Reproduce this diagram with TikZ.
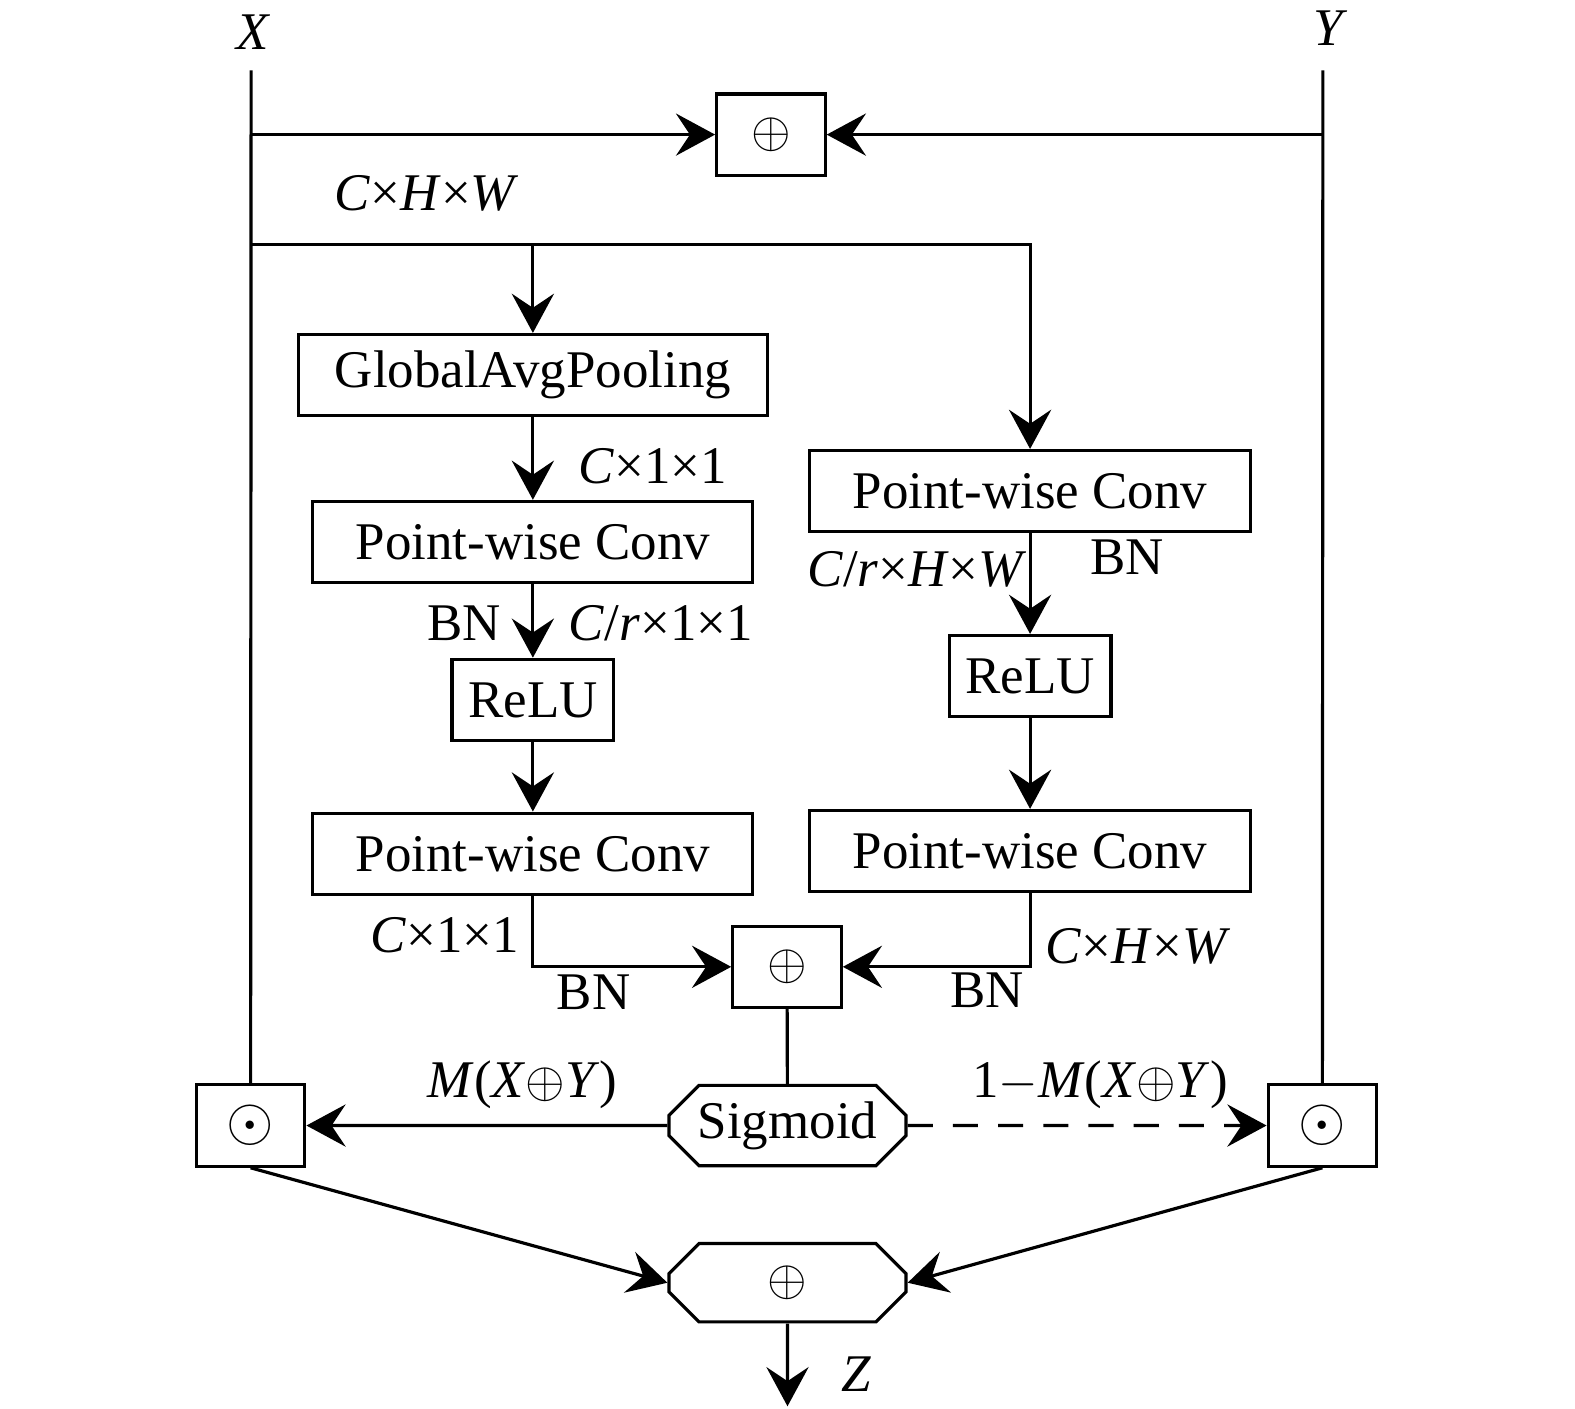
\documentclass[tikz,border=0pt]{standalone}
\usepackage{fontspec}
\setmainfont{Liberation Serif}
\usepackage{tikz}
\usetikzlibrary{shapes.misc, arrows.meta, positioning, calc}
\tikzset{
    arrow/.style={-{Stealth[length=3.9mm,width=4.2mm,inset=1.4mm]}, line width=0.9pt, black},
    plainline/.style={line width=0.9pt, black},
    lbl/.style={inner sep=0pt, font=\fontsize{15}{17}\selectfont},
}

\begin{document}
\begin{tikzpicture}[
  block/.style={draw,line width=0.9pt,rectangle,minimum height=8.1mm,inner sep=0pt,font=\fontsize{15}{17}\selectfont},
  opbox/.style={draw,line width=0.9pt,rectangle,minimum width=10.8mm,minimum height=8.1mm,inner sep=0pt,font=\fontsize{14}{16}\selectfont},
  chamfer/.style={draw,line width=0.9pt,chamfered rectangle,chamfered rectangle xsep=1.5mm,chamfered rectangle ysep=1.5mm,minimum width=23.6mm,minimum height=8mm,inner sep=0pt,font=\fontsize{15}{17}\selectfont}
]
\useasboundingbox (0,0) rectangle (15.68,-14.02);

% Inputs
\node[lbl] (xlab) at (2.52,-0.32) {\textit{X}};
\node[lbl] (ylab) at (13.25,-0.28) {\textit{Y}};
\coordinate (xtop) at (2.50,-0.70);
\coordinate (ytop) at (13.17,-0.70);
\node[opbox] (addtop) at (7.675,-1.34) {$\oplus$};
\node[lbl] (chw1) at (4.25,-1.92) {\textit{C}×\textit{H}×\textit{W}};

% Global (left) branch
\node[block,minimum width=46.7mm] (gap) at (5.305,-3.735) {GlobalAvgPooling};
\node[block,minimum width=43.8mm,below=8.2mm of gap] (pwa) {Point-wise Conv};
\node[block,minimum width=16.1mm,below=7.3mm of pwa] (relua) {ReLU};
\node[block,minimum width=43.8mm,below=6.9mm of relua] (pwb) {Point-wise Conv};

% Local (right) branch
\node[block,minimum width=43.9mm] (pwc) at (10.255,-4.89) {Point-wise Conv};
\node[block,minimum width=16.1mm,below=10.0mm of pwc] (relub) {ReLU};
\node[block,minimum width=43.9mm,below=9.0mm of relub] (pwd) {Point-wise Conv};

% Fusion
\node[opbox] (addmid) at (7.835,-9.625) {$\oplus$};
\node[chamfer] (sig) at (7.84,-11.205) {Sigmoid};
\node[opbox,font=\fontsize{17}{19}\selectfont] (dotx) at (2.495,-11.205) {$\odot$};
\node[opbox,font=\fontsize{17}{19}\selectfont] (doty) at (13.165,-11.205) {$\odot$};
\node[chamfer,minimum height=7.8mm,font=\fontsize{14}{16}\selectfont] (addout) at (7.84,-12.77) {$\oplus$};
\coordinate (zend) at (7.84,-14.00);
\coordinate (split) at (2.50,-2.43);

% Labels
\node[lbl] (l1) at (6.50,-4.64) {\textit{C}×1×1};
\node[lbl] (l2) at (4.62,-6.20) {BN};
\node[lbl] (l3) at (6.58,-6.20) {\textit{C}/\textit{r}×1×1};
\node[lbl] (l4) at (9.13,-5.67) {\textit{C}/\textit{r}×\textit{H}×\textit{W}};
\node[lbl] (l5) at (11.22,-5.55) {BN};
\node[lbl] (l6) at (4.43,-9.31) {\textit{C}×1×1};
\node[lbl] (l7) at (5.91,-9.88) {BN};
\node[lbl] (l8) at (11.33,-9.42) {\textit{C}×\textit{H}×\textit{W}};
\node[lbl] (l9) at (9.83,-9.86) {BN};
\node[lbl] (l10) at (5.20,-10.80) {\textit{M}(\textit{X}$\oplus$\textit{Y})};
\node[lbl] (l11) at (10.95,-10.80) {1$-$\textit{M}(\textit{X}$\oplus$\textit{Y})};
\node[lbl] (zlab) at (8.53,-13.68) {\textit{Z}};

% Connections
\draw[plainline] (xtop) -- (dotx.north);
\draw[plainline] (ytop) -- (doty.north);
\draw[arrow] (xtop |- addtop.west) -- (addtop.west);
\draw[arrow] (ytop |- addtop.east) -- (addtop.east);
\draw[arrow] (split) -| (pwc.north);
\draw[arrow] (split -| gap.north) -- (gap.north);
\draw[arrow] (gap) -- (pwa);
\draw[arrow] (pwa) -- (relua);
\draw[arrow] (relua) -- (pwb);
\draw[arrow] (pwc) -- (relub);
\draw[arrow] (relub) -- (pwd);
\draw[arrow] (pwb.south) |- (addmid.west);
\draw[arrow] (pwd.south) |- (addmid.east);
\draw[plainline] (addmid) -- (sig);
\draw[arrow] (sig) -- (dotx);
\draw[arrow,dash pattern=on 2.5mm off 2mm] (sig) -- (doty);
\draw[arrow] (dotx.south) -- (addout.west);
\draw[arrow] (doty.south) -- (addout.east);
\draw[arrow] (addout) -- (zend);
\end{tikzpicture}
\end{document}
